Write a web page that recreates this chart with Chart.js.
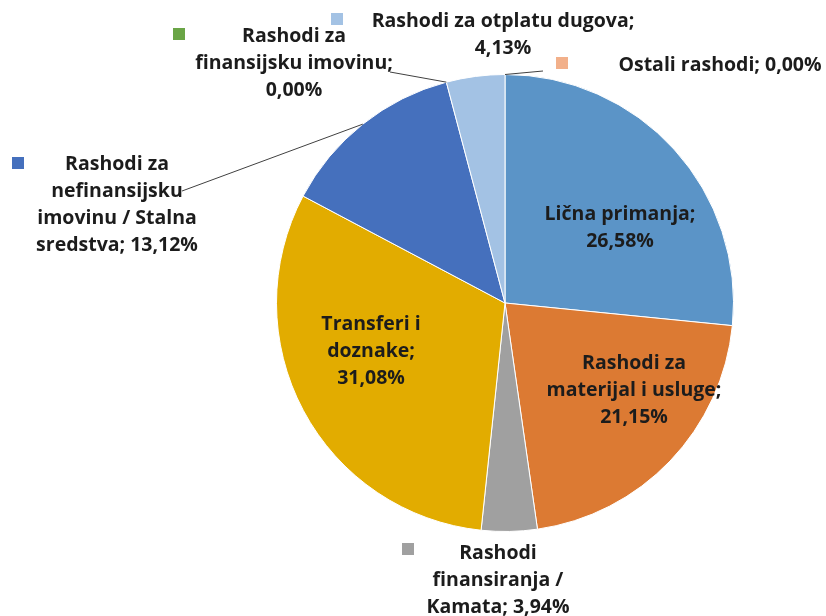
<!DOCTYPE html>
<html>
<head>
<meta charset="utf-8">
<script src="https://cdn.jsdelivr.net/npm/chart.js@4"></script>
<style>
  html, body { margin: 0; padding: 0; background: #fff; }
  #wrap { width: 826px; height: 616px; }
</style>
</head>
<body>
<div id="wrap"><canvas id="chart" width="826" height="616"></canvas></div>
<script>
// data, clockwise from 12 o'clock
const categories = [
  "Lična primanja",
  "Rashodi za materijal i usluge",
  "Rashodi finansiranja / Kamata",
  "Transferi i doznake",
  "Rashodi za nefinansijsku imovinu / Stalna sredstva",
  "Rashodi za finansijsku imovinu",
  "Rashodi za otplatu dugova",
  "Ostali rashodi"
];
const shares = [26.58, 21.15, 3.94, 31.08, 13.12, 0.00, 4.13, 0.00];
const colors = ["#5b94c7", "#dc7a33", "#a0a0a0", "#e2ac00", "#4570bd", "#6aa546", "#a3c2e4", "#f2b08a"];

// how each data label is broken into lines ({v} = value)
const labelLines = [
  ["Lična primanja;", "{v}"],
  ["Rashodi za", "materijal i usluge;", "{v}"],
  ["Rashodi", "finansiranja /", "Kamata; {v}"],
  ["Transferi i", "doznake;", "{v}"],
  ["Rashodi za", "nefinansijsku", "imovinu / Stalna", "sredstva; {v}"],
  ["Rashodi za", "finansijsku imovinu;", "{v}"],
  ["Rashodi za otplatu dugova;", "{v}"],
  ["Ostali rashodi; {v}"]
];

// label layout: centre x, first line y, legend key (x,y) or null, leader start or null
const labelLayout = [
  { x: 620, y: 214, key: null, lead: null },
  { x: 634, y: 363, key: null, lead: null },
  { x: 498, y: 553, key: [402, 543], lead: null },
  { x: 371, y: 324, key: null, lead: null },
  { x: 117, y: 164, key: [12, 157], lead: [182, 191], at: "mid" },
  { x: 294, y: 36, key: [173, 28], lead: [390, 72], at: "start" },
  { x: 503, y: 21, key: [331, 13], lead: null },
  { x: 720, y: 65, key: [556, 57], lead: [543, 71], at: "end" }
];

const fmt = v => v.toFixed(2).replace(".", ",") + "%";
const FONT = "bold 19.5px 'Open Sans', sans-serif";
const LINE_H = 27;

const labelPlugin = {
  id: "excelLabels",
  afterDatasetsDraw(chart) {
    const { ctx } = chart;
    const arcs = chart.getDatasetMeta(0).data;
    ctx.save();
    labelLayout.forEach((lay, i) => {
      const arc = arcs[i];
      // leader line
      if (lay.lead) {
        let ang = (arc.startAngle + arc.endAngle) / 2;
        if (lay.at === "start") ang = arc.startAngle;
        if (lay.at === "end") ang = arc.endAngle;
        const px = arc.x + Math.cos(ang) * arc.outerRadius;
        const py = arc.y + Math.sin(ang) * arc.outerRadius;
        ctx.strokeStyle = "#404040";
        ctx.lineWidth = 1;
        ctx.beginPath();
        ctx.moveTo(lay.lead[0], lay.lead[1]);
        ctx.lineTo(px, py);
        ctx.stroke();
      }
      // legend key
      if (lay.key) {
        ctx.fillStyle = colors[i];
        ctx.fillRect(lay.key[0], lay.key[1], 12, 12);
      }
      // text
      ctx.font = FONT;
      ctx.fillStyle = "#1c1c1c";
      ctx.textAlign = "center";
      ctx.textBaseline = "middle";
      labelLines[i].forEach((ln, k) => {
        ctx.fillText(ln.replace("{v}", fmt(shares[i])), lay.x, lay.y + k * LINE_H);
      });
    });
    ctx.restore();
  }
};

new Chart(document.getElementById("chart"), {
  type: "pie",
  data: {
    labels: categories,
    datasets: [{
      data: shares,
      backgroundColor: colors,
      borderColor: "#ffffff",
      borderWidth: 1
    }]
  },
  options: {
    responsive: false,
    animation: false,
    layout: { padding: { left: 276, right: 92, top: 74, bottom: 84 } },
    plugins: {
      legend: { display: false },
      tooltip: { enabled: false }
    }
  },
  plugins: [labelPlugin]
});
</script>
</body>
</html>
